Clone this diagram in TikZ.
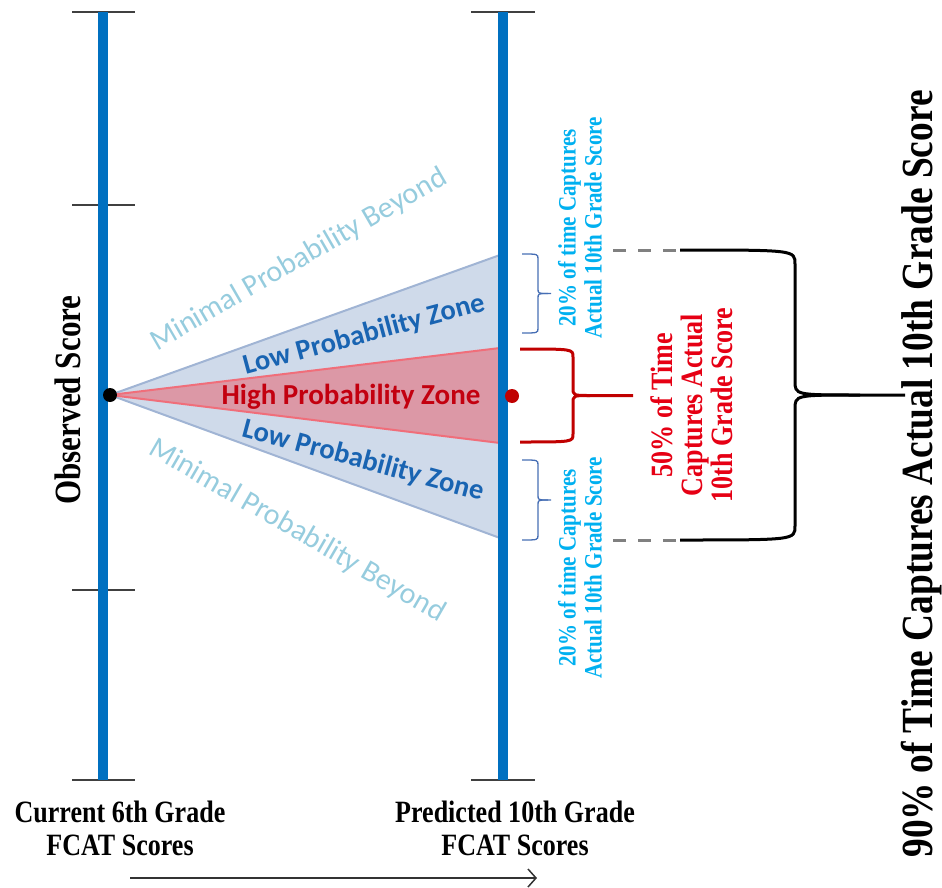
\documentclass[tikz,border=0pt]{standalone}
\usepackage{fontspec}
\setmainfont{Liberation Serif}[FakeStretch=0.84]
\newfontfamily\calibri{Carlito}
\usetikzlibrary{arrows.meta}
\definecolor{barblue}{RGB}{0,112,192}
\definecolor{lowfill}{RGB}{207,218,234}
\definecolor{lowedge}{RGB}{160,180,212}
\definecolor{highfill}{RGB}{220,152,166}
\definecolor{highedge}{RGB}{240,110,122}
\definecolor{lowtext}{RGB}{25,100,178}
\definecolor{mintext}{RGB}{150,204,222}
\definecolor{hightext}{RGB}{195,0,15}
\definecolor{capcyan}{RGB}{0,176,240}
\definecolor{capred}{RGB}{230,0,20}
\definecolor{bracered}{RGB}{192,0,0}
\definecolor{braceblue}{RGB}{70,110,180}
\begin{document}
\begin{tikzpicture}[x=1pt,y=-1pt]
	\tikzset{
		bar/.style={line width=10pt, barblue},
		tickline/.style={line width=1.5pt, black!75},
		dot/.style={circle, inner sep=0pt, minimum size=14pt},
		minimal/.style={mintext, font=\calibri\fontsize{30}{32}\selectfont},
		lowzone/.style={lowtext, font=\calibri\bfseries\fontsize{28.5}{30}\selectfont},
		highzone/.style={hightext, font=\calibri\bfseries\fontsize{29}{30}\selectfont},
		captwenty/.style={capcyan, align=center, font=\bfseries\fontsize{25}{26}\selectfont},
		capfifty/.style={capred, align=center, font=\bfseries\fontsize{31}{30}\selectfont},
		bigtext/.style={black, align=center, inner sep=0pt, font=\bfseries\fontsize{44.5}{40}\selectfont},
		axislabel/.style={black, align=center, font=\bfseries\fontsize{31}{33}\selectfont}
	}
	% brace: style, x0, ytop, ybot, xvert, xtip, xend, r
	\newcommand{\drawbrace}[8]{
		\pgfmathsetmacro{\ym}{(#3+#4)/2}
		\draw[#1] (#2,#3) .. controls (#5,#3) .. (#5,#3+#8) -- (#5,\ym-#8)
			.. controls (#5,\ym) .. (#6,\ym) -- (#7,\ym);
		\draw[#1] (#6,\ym) .. controls (#5,\ym) .. (#5,\ym+#8) -- (#5,#4-#8)
			.. controls (#5,#4) .. (#2,#4);
	}
	\useasboundingbox (0,0) rectangle (942,888);

	\coordinate (apex) at (110,395);
	% zones
	\filldraw[fill=lowfill, draw=lowedge, line width=2pt] (apex) -- (500,255) -- (500,538) -- cycle;
	\filldraw[fill=highfill, draw=highedge, line width=2pt] (apex) -- (500,348) -- (500,443) -- cycle;

	% the two scales
	\foreach \y in {12,205,590,780}
		\draw[tickline] (72,\y) -- (135,\y);
	\foreach \y in {12,780}
		\draw[tickline] (471,\y) -- (535,\y);
	\draw[bar] (103,12) -- (103,780);
	\draw[bar] (503,12) -- (503,780);

	\node[dot, fill=black] (observed) at (apex) {};
	\node[dot, fill=bracered] (predicted) at (512,396) {};

	\node[minimal, rotate=30] (minup) at (299,260) {Minimal Probability Beyond};
	\node[lowzone, rotate=15] (lowup) at (364,335) {Low Probability Zone};
	\node[highzone] (high) at (351,397) {High Probability Zone};
	\node[lowzone, rotate=-15] (lowdn) at (363,461) {Low Probability Zone};
	\node[minimal, rotate=-30] (mindn) at (297,531) {Minimal Probability Beyond};

	% braces
	\drawbrace{braceblue, line width=1.3pt}{522}{254}{333}{538}{548}{551}{5}
	\drawbrace{braceblue, line width=1.3pt}{522}{460}{540}{538}{548}{551}{5}
	\drawbrace{bracered, line width=3pt}{520}{349}{442}{573}{590}{633}{8}
	\draw[gray, line width=3pt, dash pattern=on 13pt off 12pt] (613,250) -- (680,250);
	\draw[gray, line width=3pt, dash pattern=on 13pt off 12pt] (613,540) -- (680,540);
	\drawbrace{black, line width=3pt}{680}{250}{540}{795}{860}{905}{14}

	\node[captwenty, rotate=90] (capup) at (580,228) {20\% of time Captures\\Actual 10th Grade Score};
	\node[captwenty, rotate=90] (capdn) at (580,568) {20\% of time Captures\\Actual 10th Grade Score};
	\node[capfifty, rotate=90] (fifty) at (692,405) {50\% of Time\\Captures Actual\\10th Grade Score};
	\node[bigtext, rotate=90] (ninety) at (922,474) {90\% of Time Captures Actual 10th Grade Score};
	\node[axislabel, rotate=90, font=\bfseries\fontsize{37}{40}\selectfont] (obs) at (68,400) {Observed Score};

	\node[axislabel] (current) at (120,828) {Current 6th Grade\\FCAT Scores};
	\node[axislabel] (future) at (515,828) {Predicted 10th Grade\\FCAT Scores};

	\coordinate (timefrom) at (130,878);
	\coordinate (timeto) at (537,878);
	\draw[black!80, line width=1.5pt, -{Straight Barb[length=8pt,width=18pt]}] (timefrom) -- (timeto);
\end{tikzpicture}
\end{document}
